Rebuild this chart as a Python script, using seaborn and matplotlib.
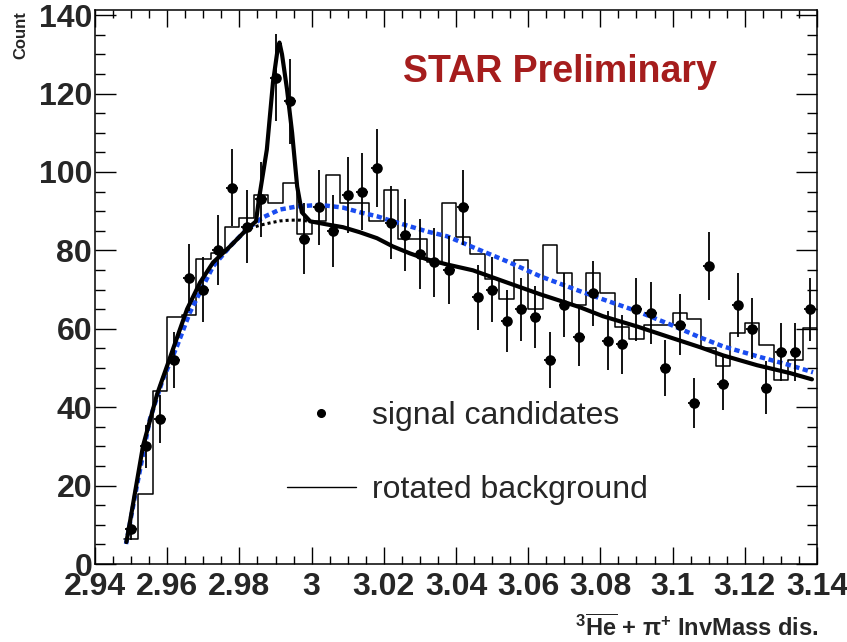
import numpy as np
import pandas as pd
import matplotlib
matplotlib.use("Agg")
import matplotlib.pyplot as plt
import seaborn as sns
from matplotlib.lines import Line2D
from matplotlib.ticker import MultipleLocator, FuncFormatter
from matplotlib import font_manager

# ---------------- data ----------------
bin_edges = [round(2.948 + 0.004 * i, 3) for i in range(49)]
mass_centers = [round(2.950 + 0.004 * i, 3) for i in range(48)]

signal_counts = [9, 30, 37, 52, 73, 70, 80, 96, 86, 93,
                 124, 118, 83, 91, 85, 94, 95, 101, 87, 84,
                 79, 77, 75, 91, 68, 70, 62, 65, 63, 52,
                 66, 58, 69, 57, 56, 65, 64, 50, 61, 41,
                 76, 46, 66, 60, 45, 54, 54, 65]

rotated_bg = [6.4, 17.8, 44.1, 62.9, 63.4, 77.7, 79.4, 86.0, 88.3, 94.0,
              92.2, 97.1, 84.1, 87.5, 99.1, 92.2, 92.2, 87.5, 95.4, 83.0,
              83.0, 77.0, 92.2, 83.5, 79.0, 72.6, 67.5, 77.5, 65.0, 81.3,
              74.1, 66.0, 74.3, 69.0, 60.5, 57.3, 60.9, 60.9, 64.1, 62.5,
              55.0, 50.5, 58.9, 61.4, 55.8, 47.0, 52.0, 60.3]

fit_total_x = [2.9487, 2.9494, 2.9533, 2.9572, 2.9608, 2.9655, 2.9691, 2.9727,
               2.9774, 2.9821, 2.9846, 2.9854, 2.9876, 2.9893, 2.9907, 2.9911,
               2.9918, 2.9932, 2.9946, 2.9960, 2.9973, 2.9996, 3.0043, 3.0087,
               3.0134, 3.0181, 3.0225, 3.0273, 3.0320, 3.0375, 3.0447, 3.0541,
               3.0633, 3.0743, 3.0807, 3.0901, 3.0993, 3.1076, 3.1140, 3.1234,
               3.1325, 3.1386]
fit_total_y = [5.6, 9.2, 30.1, 43.3, 52.7, 65.0, 71.8, 76.9,
               81.0, 85.4, 87.4, 93.0, 105.7, 122.8, 132.0, 133.0,
               130.0, 121.0, 110.0, 96.3, 89.7, 87.4, 86.6, 85.9,
               84.6, 83.1, 81.0, 79.2, 77.7, 76.4, 74.9, 71.8,
               68.8, 65.5, 63.2, 60.6, 57.8, 55.3, 53.2, 50.7,
               48.7, 47.1]

bg_under_peak_x = [2.9829, 2.9857, 2.9885, 2.9912, 2.9940, 2.9968, 2.9996]
bg_under_peak_y = [85.6, 86.4, 87.0, 87.5, 87.7, 87.7, 87.4]

blue_fit_x = [2.9486, 2.9516, 2.9552, 2.9588, 2.9627, 2.9663, 2.9699, 2.9727,
              2.9774, 2.9821, 2.9865, 2.9912, 2.9960, 3.0023, 3.0087, 3.0134,
              3.0181, 3.0225, 3.0273, 3.0320, 3.0375, 3.0447, 3.0541, 3.0633,
              3.0743, 3.0807, 3.0901, 3.0993, 3.1076, 3.1140, 3.1234, 3.1325,
              3.1389]
blue_fit_y = [5.1, 19.9, 36.9, 47.1, 55.5, 64.2, 70.8, 75.9,
              81.0, 85.4, 88.4, 90.4, 91.2, 91.6, 90.9, 89.7,
              88.7, 87.4, 86.1, 84.8, 83.6, 80.8, 77.2, 73.4,
              69.6, 67.5, 64.5, 61.1, 57.8, 55.5, 53.0, 50.7,
              48.9]

x_ticks = [2.94, 2.96, 2.98, 3.00, 3.02, 3.04, 3.06, 3.08, 3.10, 3.12, 3.14]
y_ticks = [0, 20, 40, 60, 80, 100, 120, 140]

hist_df = pd.DataFrame({"mass": mass_centers, "bg": rotated_bg})
sig_df = pd.DataFrame({"mass": mass_centers, "count": signal_counts})

# ---------------- style ----------------
sns.set_theme(style="ticks")
plt.rcParams["font.family"] = ["Liberation Sans", "DejaVu Sans"]
plt.rcParams["font.weight"] = "bold"
plt.rcParams["mathtext.fontset"] = "custom"
plt.rcParams["mathtext.rm"] = "Liberation Sans"
plt.rcParams["mathtext.bf"] = "Liberation Sans:bold"
plt.rcParams["mathtext.it"] = "Liberation Sans:italic"
plt.rcParams["mathtext.sf"] = "Liberation Sans"

names = {f.name for f in font_manager.fontManager.ttflist}
narrow = "Liberation Sans Narrow" in names
xfam = "Liberation Sans Narrow" if narrow else "Liberation Sans"
xsize = 26 if narrow else 23

fig = plt.figure(figsize=(8.47, 6.42), dpi=100)
ax = fig.add_axes([95 / 847, 1 - 564 / 642, (817 - 95) / 847, (564 - 10) / 642])

# rotated background histogram
sns.histplot(data=hist_df, x="mass", weights="bg", bins=bin_edges, element="step",
             fill=False, color="black", linewidth=1.1, ax=ax)

# fits
ax.plot(blue_fit_x, blue_fit_y, color="#1a4cf0", lw=3.2,
        linestyle=(0, (1.2, 0.8)), zorder=3)
ax.plot(bg_under_peak_x, bg_under_peak_y, color="black", lw=2.2,
        linestyle=(0, (1, 1)), zorder=3)
ax.plot(fit_total_x, fit_total_y, color="black", lw=3.0, zorder=4,
        solid_joinstyle="round")

# signal candidates
ax.errorbar(sig_df["mass"], sig_df["count"], yerr=np.sqrt(sig_df["count"]), xerr=0.0016,
            fmt="none", ecolor="black", elinewidth=1.3, capsize=0, zorder=5)
sns.scatterplot(data=sig_df, x="mass", y="count", color="black", s=58,
                edgecolor="black", linewidth=0, ax=ax, zorder=6)

# axes
ax.set_xlim(2.94, 3.14)
ax.set_ylim(0, 141.3)
ax.set_xticks(x_ticks)
ax.set_yticks(y_ticks)
ax.xaxis.set_minor_locator(MultipleLocator(0.005))
ax.yaxis.set_minor_locator(MultipleLocator(5))
ax.xaxis.set_major_formatter(FuncFormatter(lambda v, p: "{:g}".format(round(v, 3))))
ax.yaxis.set_major_formatter(FuncFormatter(lambda v, p: "{:g}".format(round(v, 3))))
ax.set_xlabel("")
ax.set_ylabel("")
for s in ax.spines.values():
    s.set_visible(True)
    s.set_color("black")
    s.set_linewidth(1.1)
ax.tick_params(which="both", direction="in", top=True, right=True, color="black")
ax.tick_params(axis="x", which="major", length=12.5, width=1.0, pad=6,
               labelsize=xsize, labelfontfamily=xfam)
ax.tick_params(axis="x", which="minor", length=6, width=1.0)
ax.tick_params(axis="y", which="major", length=15, width=1.0, pad=2, labelsize=23)
ax.tick_params(axis="y", which="minor", length=7.5, width=1.0)

# texts
fig.text(21 / 847, 1 - 11 / 642, "Count", rotation=90, ha="center", va="top",
         fontsize=12, fontweight="bold")
fig.text(818 / 847, 1 - 628 / 642,
         r"$^{\mathbf{3}}\overline{\mathbf{He}}$ + $\mathbf{\pi}^{\mathbf{+}}$ InvMass dis.",
         ha="right", va="center", fontsize=17, fontweight="bold", family=xfam)
ax.text((403 - 95) / 722, (564 - 72) / 554, "STAR Preliminary", transform=ax.transAxes,
        ha="left", va="center", fontsize=27, fontweight="bold", color="#a51d1d")

handles = [Line2D([], [], marker="o", color="black", linestyle="none", markersize=5.5),
           Line2D([], [], color="black", lw=1.0)]
ax.legend(handles, ["signal candidates", "rotated background"],
          loc="upper left", bbox_to_anchor=((287 - 95) / 722, (564 - 401) / 554),
          frameon=False, prop={"size": 23, "weight": "normal", "family": "Liberation Sans"},
          handlelength=2.15, handletextpad=0.5, labelspacing=1.37,
          borderpad=0, borderaxespad=0)

fig.savefig("out.png", dpi=100)
